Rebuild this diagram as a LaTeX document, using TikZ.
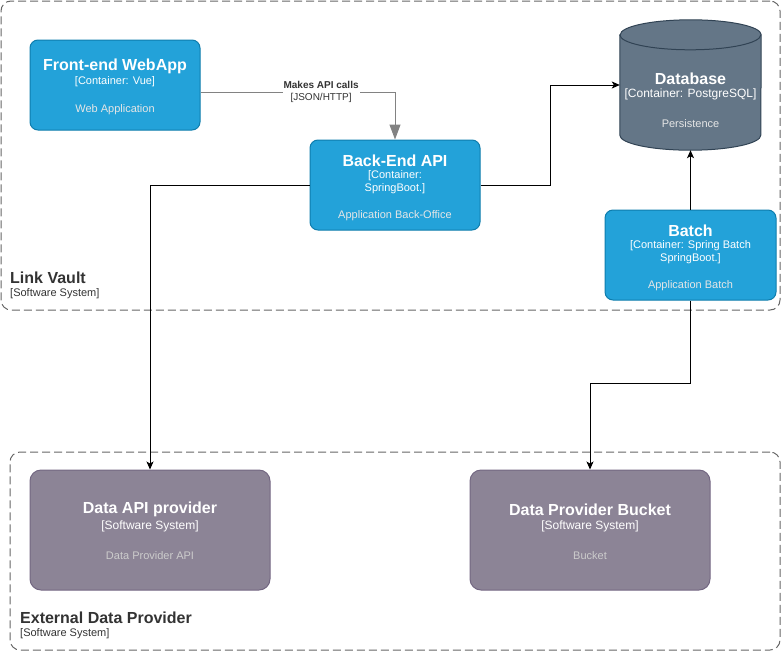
\documentclass[tikz,border=0pt]{standalone}
\usepackage{fontspec}
\setmainfont{Liberation Sans}
\usetikzlibrary{arrows.meta,positioning}
\definecolor{contfill}{HTML}{23A2D9}
\definecolor{contline}{HTML}{0E7DAD}
\definecolor{dbfill}{HTML}{647687}
\definecolor{dbline}{HTML}{314354}
\definecolor{extfill}{HTML}{8C8496}
\definecolor{extline}{HTML}{736782}
\definecolor{bndline}{HTML}{666666}
\definecolor{bndtext}{HTML}{333333}
\definecolor{descblue}{HTML}{E6E6E6}
\definecolor{descext}{HTML}{CCCCCC}
\definecolor{callgrey}{HTML}{828282}
\tikzset{
  container/.style={draw=contline,fill=contfill,rounded corners=8pt,line width=1pt,inner sep=0pt},
  extsystem/.style={draw=extline,fill=extfill,rounded corners=11pt,line width=1pt,inner sep=0pt},
  boundary/.style={draw=bndline,rounded corners=10pt,line width=1pt,dash pattern=on 8pt off 4pt,inner sep=0pt},
  boxtitle/.style={inner sep=0pt,yshift=-1.5pt,text=white,font=\bfseries\fontsize{16}{19}\selectfont},
  boxtech/.style={inner sep=0pt,yshift=-1pt,text=white,align=center,font=\fontsize{11}{13}\selectfont},
  boxdesc/.style={inner sep=0pt,yshift=-1.5pt,text=descblue,font=\fontsize{11}{13}\selectfont},
  bndtitle/.style={inner sep=0pt,yshift=-1pt,anchor=west,text=bndtext,font=\bfseries\fontsize{16}{19}\selectfont},
  bndtype/.style={inner sep=0pt,yshift=-1pt,anchor=west,text=bndtext,font=\fontsize{11}{13}\selectfont},
  rel/.style={draw=black,line width=1pt,-{Stealth[length=8pt,width=7pt,inset=2pt]}},
  apicall/.style={draw=callgrey,line width=1pt,-{Triangle[length=15pt,width=11pt]}}
}
\begin{document}
\begin{tikzpicture}[x=1pt,y=-1pt]
          \useasboundingbox (0,0) rectangle (781,651);
          \node[boundary,minimum width=779pt,minimum height=309pt] (vault) at (390.5,155.5) {};
          \node[bndtitle] (vault-t) at (10,277) {Link Vault};
          \node[bndtype] (vault-s) at (10,293) {[Software System]};
          \node[boundary,minimum width=770pt,minimum height=198pt] (extprov) at (395,551) {};
          \node[bndtitle] (extprov-t) at (20,617) {External Data Provider};
          \node[bndtype] (extprov-s) at (20,633) {[Software System]};

          \node[container,minimum width=170pt,minimum height=90pt] (webapp) at (115,85) {};
          \node[boxtitle] (webapp-t) at (115,65) {Front-end WebApp};
          \node[boxtech] (webapp-s) at (115,81) {[Container: Vue]};
          \node[boxdesc] (webapp-d) at (115,108) {Web Application};

          \node[container,minimum width=170pt,minimum height=90pt] (backend) at (395,185) {};
          \node[boxtitle] (backend-t) at (395,159) {Back-End API};
          \node[boxtech] (backend-s) at (395,181.5) {[Container:\\SpringBoot.]};
          \node[boxdesc] (backend-d) at (395,214) {Application Back-Office};

          \node[minimum width=141pt,minimum height=130pt,inner sep=0pt] (db) at (690.5,85) {};
          \draw[fill=dbfill,draw=dbline,line width=1pt] ([yshift=-15pt]db.north west) -- ([yshift=15pt]db.south west)
            arc[start angle=180,end angle=360,x radius=70.5pt,y radius=15pt] -- ([yshift=-15pt]db.north east)
            arc[start angle=0,end angle=180,x radius=70.5pt,y radius=15pt] -- cycle;
          \draw[draw=dbline,line width=1pt] ([yshift=-15pt]db.north west) arc[start angle=180,end angle=360,x radius=70.5pt,y radius=15pt];
          \node[boxtitle] (db-t) at (690.5,77) {Database};
          \node[boxtech,font=\fontsize{12}{14}\selectfont] (db-s) at (690.5,93) {[Container: PostgreSQL]};
          \node[boxdesc] (db-d) at (690.5,122) {Persistence};

          \node[container,minimum width=171pt,minimum height=90pt] (batch) at (690.5,255) {};
          \node[boxtitle] (batch-t) at (690.5,229) {Batch};
          \node[boxtech] (batch-s) at (690.5,251.5) {[Container: Spring Batch\\SpringBoot.]};
          \node[boxdesc] (batch-d) at (690.5,284) {Application Batch};

          \node[extsystem,minimum width=240pt,minimum height=120pt] (dataapi) at (150,530) {};
          \node[boxtitle] (dataapi-t) at (150,508) {Data API provider};
          \node[boxtech,font=\fontsize{12}{14}\selectfont] (dataapi-s) at (150,525) {[Software System]};
          \node[boxdesc,text=descext] (dataapi-d) at (150,554) {Data Provider API};

          \node[extsystem,minimum width=240pt,minimum height=120pt] (bucket) at (590,530) {};
          \node[boxtitle] (bucket-t) at (590,508) {Data Provider Bucket};
          \node[boxtech,font=\fontsize{12}{14}\selectfont] (bucket-s) at (590,525) {[Software System]};
          \node[boxdesc,text=descext] (bucket-d) at (590,554) {Bucket};

          \draw[apicall] ([yshift=-7pt]webapp.east) -| (backend.north)
            node[pos=0.31,fill=white,inner sep=1pt,align=center,text=bndtext,font=\fontsize{10}{12}\selectfont] (call-l)
            {\textbf{Makes API calls}\\{[JSON/HTTP]}};
          \draw[rel] (backend.west) -| (dataapi.north);
          \draw[rel] (backend.east) -- ++(70,0) |- (db.west);
          \draw[rel] (batch.north) -- (db.south);
          \draw[rel] (batch.south) -- ++(0,83) -| (bucket.north);
\end{tikzpicture}
\end{document}
